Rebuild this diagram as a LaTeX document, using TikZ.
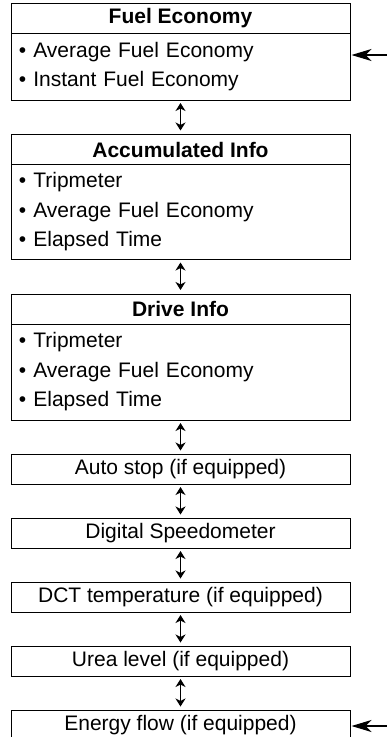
\documentclass[tikz,border=0pt]{standalone}
\usepackage{fontspec}
\setmainfont{Liberation Sans}
\usetikzlibrary{positioning,arrows.meta}

\begin{document}
\begin{tikzpicture}[
    x=1pt, y=1pt,
    node distance=34.5pt,
    every node/.style={font=\fontsize{21}{29.5}\selectfont, outer sep=0pt},
    head/.style={rectangle, draw, line width=0.9pt, minimum width=339pt, minimum height=30pt, inner sep=0pt, font=\fontsize{21}{29.5}\selectfont\bfseries},
    list/.style={rectangle, draw, line width=0.9pt, text width=323pt, inner xsep=8pt, inner ysep=0pt, align=left},
    entry/.style={rectangle, draw, line width=0.9pt, minimum width=339pt, minimum height=29.5pt, inner sep=0pt},
    link/.style={<->, >={Stealth[length=8pt,width=10pt,inset=2.5pt]}, line width=1.1pt, shorten <=3pt, shorten >=4pt},
    feed/.style={-{Stealth[length=20pt,width=12pt,inset=6pt]}, line width=1.1pt, shorten >=1.5pt}
]
\useasboundingbox (0,0) rectangle (387,-737);

% Fuel Economy
\node[head, anchor=north west] (fuel) at (11,-3) {Fuel Economy};
\node[list, minimum height=67pt, below=0pt of fuel] (fuellist) {• Average Fuel Economy\\• Instant Fuel Economy};

% Accumulated Info
\node[head, below=of fuellist] (accum) {Accumulated Info};
\node[list, minimum height=95pt, below=0pt of accum] (accumlist) {• Tripmeter\\• Average Fuel Economy\\• Elapsed Time};

% Drive Info
\node[head, below=of accumlist] (drive) {Drive Info};
\node[list, minimum height=96pt, below=0pt of drive] (drivelist) {• Tripmeter\\• Average Fuel Economy\\• Elapsed Time};

% Single screens
\node[entry, below=of drivelist] (autostop) {Auto stop (if equipped)};
\node[entry, below=of autostop] (speedo) {Digital Speedometer};
\node[entry, below=of speedo] (dct) {DCT temperature (if equipped)};
\node[entry, below=of dct] (urea) {Urea level (if equipped)};
\node[entry, below=of urea] (energy) {Energy flow (if equipped)};

% Arrows
\draw[link] (fuellist) -- (accum);
\draw[link] (accumlist) -- (drive);
\draw[link] (drivelist) -- (autostop);
\draw[link] (autostop) -- (speedo);
\draw[link] (speedo) -- (dct);
\draw[link] (dct) -- (urea);
\draw[link] (urea) -- (energy);

% Incoming
\coordinate (infuel) at (387,-55);
\coordinate (inenergy) at (387,-726);
\draw[feed] (infuel) -- (infuel -| fuellist.east);
\draw[feed] (inenergy) -- (inenergy -| energy.east);

\end{tikzpicture}
\end{document}
